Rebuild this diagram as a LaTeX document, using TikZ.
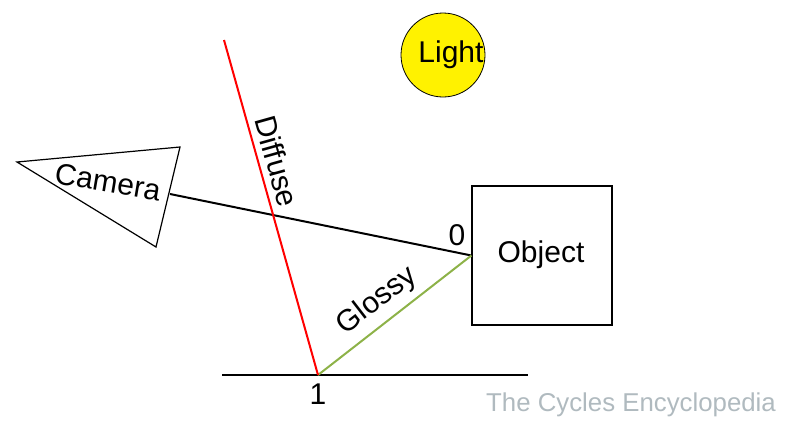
\documentclass[tikz,border=0pt]{standalone}
\usepackage{fontspec}
\setmainfont{Liberation Sans}
\begin{document}
\begin{tikzpicture}[x=1bp,y=-1bp,
  lbl/.style={inner sep=0pt,font=\fontsize{30bp}{36bp}\selectfont},
  ray/.style={line width=2bp},
  boxshape/.style={draw,line width=1.2bp,minimum width=140bp,minimum height=139bp,inner sep=0pt}]
\definecolor{glossygreen}{RGB}{141,178,72}
\definecolor{wmgray}{RGB}{176,186,191}
\useasboundingbox (0,0) rectangle (790,421);
% light
\node[circle,draw,line width=0.8bp,fill=yellow,minimum size=84bp,inner sep=0pt] (light) at (443,55) {};
\node[lbl] (lighttxt) at (451,55) {Light};
% object
\node[boxshape] (obj) at (542,255.5) {};
\node[lbl] (objtxt) at (541,255) {Object};
% camera
\coordinate (c1) at (17,162);
\coordinate (c2) at (180,147);
\coordinate (c3) at (156,247);
\coordinate (cam) at (170,194);
\draw[line width=1.2bp,line join=miter] (c1) -- (c2) -- (c3) -- cycle;
\node[lbl,rotate=-9.5] (camtxt) at (108,182) {Camera};
% points
\coordinate (hit1) at (318,375);
\coordinate (gl) at (222,375);
\coordinate (gr) at (528,375);
\coordinate (difftop) at (224,40);
% rays
\draw[ray] (cam) -- (obj.west);
\draw[ray] (gl) -- (gr);
\draw[ray,glossygreen] (obj.west) -- (hit1);
\draw[ray,red] (difftop) -- (hit1);
% labels
\node[lbl,rotate=-74.3] (difftxt) at (277,161) {Diffuse};
\node[lbl,rotate=37.7] (glosstxt) at (377,301) {Glossy};
\node[lbl] (zero) at (457,235) {0};
\node[lbl] (one) at (318,394) {1};
\node[inner sep=0pt,text=wmgray,font=\fontsize{25.8bp}{30bp}\selectfont] (wm) at (631,405) {The Cycles Encyclopedia};
\end{tikzpicture}
\end{document}
